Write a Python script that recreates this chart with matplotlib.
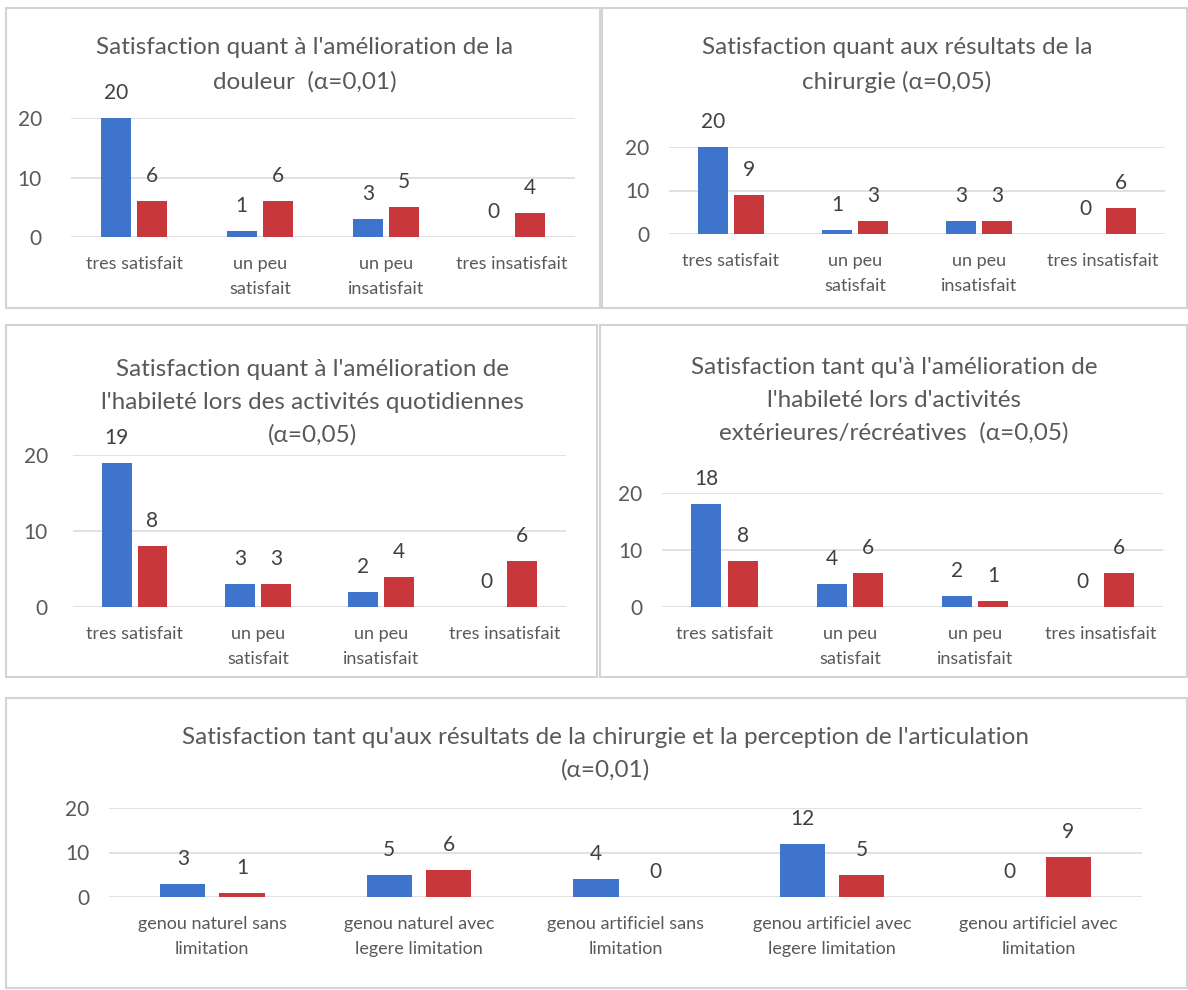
import matplotlib.pyplot as plt
from matplotlib.patches import Rectangle

# data (blue = first series, red = second series)
cats_4 = ['tres satisfait', 'un peu\nsatisfait', 'un peu\ninsatisfait', 'tres insatisfait']
cats_5 = ['genou naturel sans\nlimitation', 'genou naturel avec\nlegere limitation',
          'genou artificiel sans\nlimitation', 'genou artificiel avec\nlegere limitation',
          'genou artificiel avec\nlimitation']

douleur_blue = [20, 1, 3, 0]
douleur_red = [6, 6, 5, 4]
chirurgie_blue = [20, 1, 3, 0]
chirurgie_red = [9, 3, 3, 6]
quotid_blue = [19, 3, 2, 0]
quotid_red = [8, 3, 4, 6]
recre_blue = [18, 4, 2, 0]
recre_red = [8, 6, 1, 6]
artic_blue = [3, 5, 4, 12, 0]
artic_red = [1, 6, 0, 5, 9]

titles = [
    "Satisfaction quant à l'amélioration de la\ndouleur  (α=0,01)",
    "Satisfaction quant aux résultats de la\nchirurgie (α=0,05)",
    "Satisfaction quant à l'amélioration de\nl'habileté lors des activités quotidiennes\n(α=0,05)",
    "Satisfaction tant qu'à l'amélioration de\nl'habileté lors d'activités\nextérieures/récréatives  (α=0,05)",
    "Satisfaction tant qu'aux résultats de la chirurgie et la perception de l'articulation\n(α=0,01)",
]

BLUE = '#3f74cc'
RED = '#c8373c'
GRID = '#dcdcdc'
TXT = '#595959'

plt.rcParams['font.family'] = ['Lato', 'DejaVu Sans']

W, H = 1188, 990
fig = plt.figure(figsize=(W / 100, H / 100), dpi=100)
fig.patch.set_facecolor('white')


def px_axes(x0, y0, x1, y1):
    return fig.add_axes([x0 / W, 1 - y1 / H, (x1 - x0) / W, (y1 - y0) / H])


def panel(x0, y0, x1, y1):
    fig.patches.append(Rectangle((x0 / W, 1 - y1 / H), (x1 - x0) / W, (y1 - y0) / H,
                                 transform=fig.transFigure, facecolor='white',
                                 edgecolor='#d4d4d4', linewidth=1.5, zorder=-5))


def title(cx, ytop, text, spacing):
    for i, line in enumerate(text.split('\n')):
        fig.text(cx / W, 1 - (ytop + i * spacing) / H, line, ha='center', va='center',
                 fontsize=17.5, color=TXT)


def bars(ax, cats, blue, red, width, off, ypad=14):
    x = list(range(len(cats)))
    ax.bar([i - off for i in x], blue, width, color=BLUE, zorder=3)
    ax.bar([i + off for i in x], red, width, color=RED, zorder=3)
    for i in x:
        ax.annotate(str(blue[i]), (i - off, blue[i]), xytext=(0, 18), textcoords='offset points',
                    ha='center', va='center', fontsize=15, color='#404040')
        ax.annotate(str(red[i]), (i + off, red[i]), xytext=(0, 18), textcoords='offset points',
                    ha='center', va='center', fontsize=15, color='#404040')
    ax.set_xlim(-0.5, len(cats) - 0.5)
    ax.set_ylim(0, 20)
    ax.set_yticks([0, 10, 20])
    ax.set_xticks(x)
    ax.set_xticklabels(cats, fontsize=13, color=TXT, linespacing=1.65, va='top')
    ax.tick_params(axis='x', length=0, pad=14)
    ax.tick_params(axis='y', length=0, pad=ypad, labelsize=15, labelcolor=TXT)
    ax.grid(axis='y', color=GRID, linewidth=1.2, zorder=0)
    for s in ax.spines.values():
        s.set_visible(False)
    ax.set_facecolor('none')


# panel frames
panel(6, 8, 600, 308)
panel(602, 8, 1187, 308)
panel(6, 325, 597, 677)
panel(600, 325, 1187, 677)
panel(6, 698, 1187, 988)

ax1 = px_axes(71, 118, 575, 237)
bars(ax1, cats_4, douleur_blue, douleur_red, 0.24, 0.145, ypad=21)
title(305, 48, titles[0], 34)

ax2 = px_axes(669, 147, 1165, 234)
bars(ax2, cats_4, chirurgie_blue, chirurgie_red, 0.24, 0.145)
title(897, 48, titles[1], 34)

ax3 = px_axes(73, 455, 566, 607)
bars(ax3, cats_4, quotid_blue, quotid_red, 0.24, 0.145, ypad=18)
title(312, 370, titles[2], 32.5)

ax4 = px_axes(662, 493, 1163, 607)
bars(ax4, cats_4, recre_blue, recre_red, 0.24, 0.145)
title(894, 368, titles[3], 32.5)

ax5 = px_axes(109, 808, 1142, 897)
bars(ax5, cats_5, artic_blue, artic_red, 0.22, 0.143)
title(605, 738, titles[4], 32)

fig.savefig('out.png', dpi=100, facecolor='white')
